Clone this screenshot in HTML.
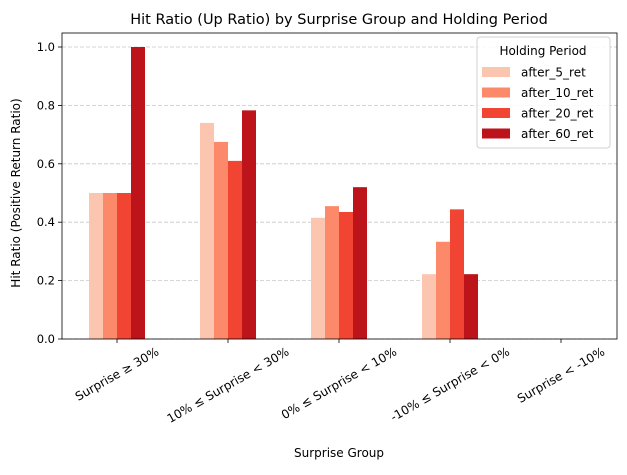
<!DOCTYPE html>
<html><head><meta charset="utf-8"><style>
body{margin:0;background:#fff}
svg{font-family:"DejaVu Sans","Liberation Sans",sans-serif}
</style></head><body>
<svg id="c" width="627" height="470" xmlns="http://www.w3.org/2000/svg">
<text x="339" y="24" font-size="14.5" text-anchor="middle">Hit Ratio (Up Ratio) by Surprise Group and Holding Period</text>
<g id="grid"></g><g id="bars"></g><g id="axes"></g>
<text x="339" y="457" font-size="12" text-anchor="middle">Surprise Group</text>
<text transform="translate(20,193) rotate(-90)" font-size="12" text-anchor="middle">Hit Ratio (Positive Return Ratio)</text>
<g id="legend"></g>
</svg>
<script>
const categories=["Surprise ≥ 30%","10% ≤ Surprise < 30%","0% ≤ Surprise < 10%","-10% ≤ Surprise < 0%","Surprise < -10%"];
const seriesNames=["after_5_ret","after_10_ret","after_20_ret","after_60_ret"];
const after5=[0.5,0.74,0.415,0.222,0];
const after10=[0.5,0.675,0.455,0.333,0];
const after20=[0.5,0.61,0.435,0.444,0];
const after60=[1.0,0.783,0.52,0.222,0];
const yTicks=[0,0.2,0.4,0.6,0.8,1.0];
const colors=["#fcc5b0","#fc8a6a","#f14432","#bc141a"];
const series=[after5,after10,after20,after60];
const NS="http://www.w3.org/2000/svg";
const L=62,R=617,T=33,B=339;
const y=v=>B-v*292;
const x=i=>117+i*111;
function el(t,a,p){const e=document.createElementNS(NS,t);for(const k in a)e.setAttribute(k,a[k]);p.appendChild(e);return e;}
const grid=document.getElementById('grid'),bars=document.getElementById('bars'),axes=document.getElementById('axes');
yTicks.forEach(v=>{
 const g=el('line',{x1:L,x2:R,y1:y(v),y2:y(v),stroke:'#c8c8c8','stroke-dasharray':'4,2','stroke-width':0.8},grid);
 
 
 el('line',{x1:L-4,x2:L,y1:y(v),y2:y(v),stroke:'#000','stroke-width':0.8},axes);
 const t=el('text',{x:L-7,y:y(v)+4,'font-size':11.5,'text-anchor':'end'},axes);
 t.textContent=v.toFixed(1);
 
 
});
const bw=14;
series.forEach((s,j)=>s.forEach((v,i)=>{
 const bx=x(i)-2*bw+j*bw;
 const r=el('rect',{x:bx,y:y(v),width:bw,height:B-y(v),fill:colors[j]},bars);
 
 
}));
el('rect',{x:L,y:T,width:R-L,height:B-T,fill:'none',stroke:'#000','stroke-width':0.8},axes);
categories.forEach((c,i)=>{
 el('line',{x1:x(i),x2:x(i),y1:B,y2:B+4,stroke:'#000','stroke-width':0.8},axes);
 const t=el('text',{'font-size':12,'text-anchor':'middle','dominant-baseline':'central'},axes);
 t.textContent=c;
 
 
 const w=t.getComputedTextLength();
 const cy=345+(w*0.5+13*0.866)/2;
 t.setAttribute('transform','translate('+x(i)+','+cy+') rotate(-30)');
});
const lg=document.getElementById('legend');
el('rect',{x:477,y:37,width:133,height:111,fill:'#fff','fill-opacity':0.85,stroke:'#d0d0d0',rx:3},lg);
const lt=el('text',{x:543,y:55,'font-size':12,'text-anchor':'middle'},lg);lt.textContent='Holding Period';
seriesNames.forEach((n,j)=>{
 const yy=67+j*20.5;
 const sw=el('rect',{x:482,y:yy,width:28,height:10,fill:colors[j]},lg);
 
 
 const t=el('text',{x:521,y:yy+9.5,'font-size':12},lg);
 t.textContent=n;
 
 
});
</script>
</body></html>
